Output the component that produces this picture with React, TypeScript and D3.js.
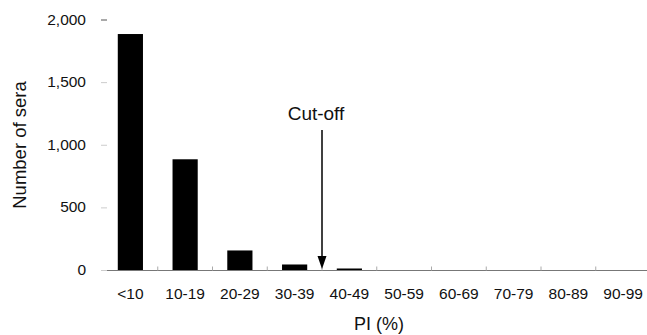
import React, { useEffect, useRef } from "react";
import * as d3 from "d3";

const categories = ["<10", "10-19", "20-29", "30-39", "40-49", "50-59", "60-69", "70-79", "80-89", "90-99"];
const counts = [1888, 888, 160, 48, 8, 0, 0, 0, 0, 0];
const yTicks = [0, 500, 1000, 1500, 2000];
const cutOffIndex = 4; // arrow at the boundary before 40-49

export default function App() {
    const ref = useRef<SVGSVGElement>(null);

    useEffect(() => {
        const width = 647, height = 335;
        const svg = d3.select(ref.current);
        svg.selectAll("*").remove();
        svg.attr("width", width).attr("height", height);

        const font = "Liberation Sans, Arial, Helvetica, sans-serif";

        const x = d3.scaleBand<string>().domain(categories).range([103, 650.5]).paddingInner(0.54).paddingOuter(0.27);
        const y = d3.scaleLinear().domain([0, 2000]).range([270.5, 20]);

        const g = svg.append("g");

        // bars
        g.selectAll("rect.bar")
            .data(categories)
            .enter()
            .append("rect")
            .attr("class", "bar")
            .attr("x", d => x(d)!)
            .attr("width", x.bandwidth())
            .attr("y", (d, i) => Math.min(y(counts[i]), y(0) - (counts[i] > 0 ? 2 : 0)))
            .attr("height", (d, i) => counts[i] > 0 ? Math.max(y(0) - y(counts[i]), 2) : 0)
            .attr("fill", "#000");

        // x axis line
        g.append("line")
            .attr("x1", 103).attr("x2", width)
            .attr("y1", y(0)).attr("y2", y(0))
            .attr("stroke", "#777").attr("stroke-width", 1.2);

        // x ticks between categories
        const step = x.step();
        const x0 = x.range()[0];
        g.selectAll("line.xtick")
            .data(d3.range(1, categories.length))
            .enter()
            .append("line")
            .attr("x1", i => x0 + i * step).attr("x2", i => x0 + i * step)
            .attr("y1", y(0) - 4).attr("y2", y(0))
            .attr("stroke", "#aaa").attr("stroke-width", 1);

        // x labels
        g.selectAll("text.xlab")
            .data(categories)
            .enter()
            .append("text")
            .attr("x", d => x(d)! + x.bandwidth() / 2)
            .attr("y", 299)
            .attr("text-anchor", "middle")
            .attr("font-family", font)
            .attr("font-size", 15.5)
            .attr("fill", "#111")
            .text(d => d);

        // y ticks
        g.selectAll("line.ytick")
            .data(yTicks)
            .enter()
            .append("line")
            .attr("x1", 101).attr("x2", 107)
            .attr("y1", d => y(d)).attr("y2", d => y(d))
            .attr("stroke", d => d === 2000 ? "#555" : "#ccc");

        g.selectAll("text.ylab")
            .data(yTicks)
            .enter()
            .append("text")
            .attr("x", 86)
            .attr("y", d => y(d) + 4.5)
            .attr("text-anchor", "end")
            .attr("font-family", font)
            .attr("font-size", 15.5)
            .attr("fill", "#111")
            .text(d => d3.format(",")(d));

        // axis titles
        g.append("text")
            .attr("transform", "translate(26,145) rotate(-90)")
            .attr("text-anchor", "middle")
            .attr("font-family", font)
            .attr("font-size", 18.5)
            .attr("fill", "#111")
            .text("Number of sera");

        g.append("text")
            .attr("x", 379).attr("y", 330)
            .attr("text-anchor", "middle")
            .attr("font-family", font)
            .attr("font-size", 18)
            .attr("fill", "#111")
            .text("PI (%)");

        // cut-off arrow
        const ax = x0 + cutOffIndex * step;
        g.append("line")
            .attr("x1", ax).attr("x2", ax)
            .attr("y1", 130).attr("y2", 258)
            .attr("stroke", "#000").attr("stroke-width", 1.5);
        g.append("path")
            .attr("d", `M${ax - 4.5},256 L${ax + 4.5},256 L${ax},269 Z`)
            .attr("fill", "#000");
        g.append("text")
            .attr("x", ax - 6).attr("y", 120)
            .attr("text-anchor", "middle")
            .attr("font-family", font)
            .attr("font-size", 19)
            .attr("fill", "#111")
            .text("Cut-off");
    }, []);

    return (
        <div style={{ position: "absolute", left: 0, top: 0 }}>
            <svg ref={ref}></svg>
        </div>
    );
}
